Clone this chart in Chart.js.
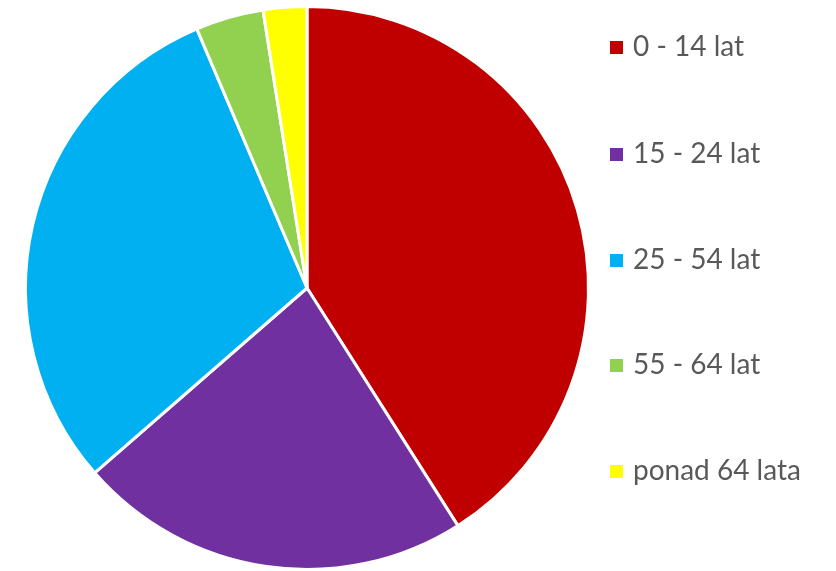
<!DOCTYPE html>
<html>
<head>
<meta charset="utf-8">
<script src="https://cdn.jsdelivr.net/npm/chart.js@4.4.0/dist/chart.umd.min.js"></script>
<style>
  html, body { margin: 0; padding: 0; background: #fff; overflow: hidden; }
  #wrap { position: relative; width: 836px; height: 580px; }
  #legend { position: absolute; left: 610px; top: 0; font-family: Lato, sans-serif; font-size: 28px; color: #595959; }
  #legend div { position: absolute; white-space: nowrap; height: 30px; line-height: 30px; }
  #legend span { display: inline-block; width: 13px; height: 13px; margin-right: 10px; vertical-align: 2px; }
</style>
</head>
<body>
<div id="wrap">
  <canvas id="myChart" width="836" height="580"></canvas>
  <div id="legend"></div>
</div>
<script>
// grupy wiekowe
var labels = ['0 - 14 lat', '15 - 24 lat', '25 - 54 lat', '55 - 64 lat', 'ponad 64 lata'];
var values = [41.0, 22.6, 30.0, 3.9, 2.5];
var colors = ['#C00000', '#7030A0', '#00B0F0', '#92D050', '#FFFF00'];

var ctx = document.getElementById('myChart').getContext('2d');
var myChart = new Chart(ctx, {
    type: 'pie',
    data: {
        labels: labels,
        datasets: [{
            data: values,
            backgroundColor: colors,
            borderColor: '#ffffff',
            borderWidth: 3
        }]
    },
    options: {
        responsive: false,
        animation: false,
        layout: { padding: { left: 22, right: 244, top: 5, bottom: 9 } },
        plugins: {
            legend: { display: false },
            tooltip: { enabled: false }
        }
    }
});

// legenda po prawej
var legend = document.getElementById('legend');
var tops = [30, 137, 243, 348, 454];
for (var i = 0; i < labels.length; i++) {
    var item = document.createElement('div');
    item.style.top = tops[i] + 'px';
    item.innerHTML = '<span style="background:' + colors[i] + '"></span>' + labels[i];
    legend.appendChild(item);
}
</script>
</body>
</html>
